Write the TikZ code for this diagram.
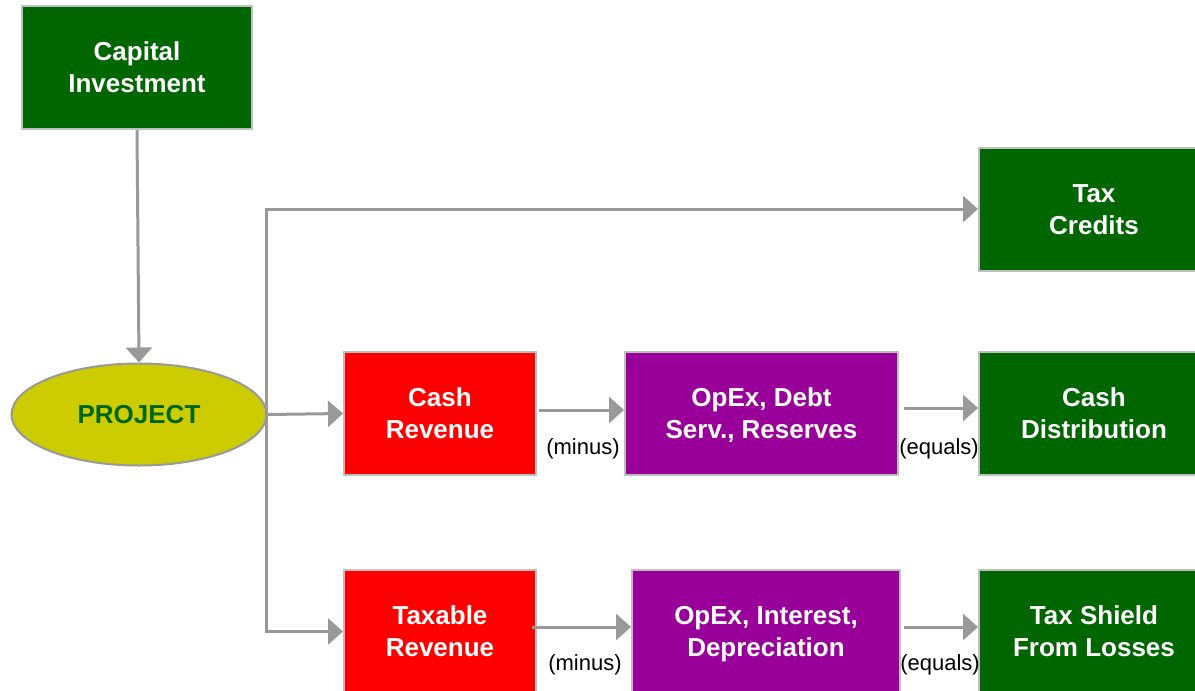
\documentclass[tikz,border=0pt]{standalone}
\usepackage{fontspec}
\setmainfont{Liberation Sans}
\usetikzlibrary{arrows.meta,shapes.geometric}
\definecolor{dgreen}{HTML}{006600}
\definecolor{bred}{HTML}{FF0000}
\definecolor{bpurple}{HTML}{990099}
\definecolor{yel}{HTML}{CCCC00}
\definecolor{lgray}{HTML}{999999}
\definecolor{bgray}{HTML}{BFBFBF}
\tikzset{
  box/.style={rectangle, draw=bgray, line width=2pt, text=white, align=center,
    font=\fontsize{26}{32}\selectfont\bfseries, inner sep=0pt,
    text height=51pt, text depth=1pt},
  gbox/.style={box, fill=dgreen, minimum width=230pt, minimum height=123pt},
  rbox/.style={box, fill=bred, minimum width=192pt, minimum height=123pt},
  pbox/.style={box, fill=bpurple, minimum height=123pt},
  conn/.style={draw=lgray, line width=3pt},
  arr/.style={conn, -{Triangle[length=15pt,width=26pt]}},
  lab/.style={font=\fontsize{22}{26}\selectfont, text=black, inner sep=0pt}
}
\begin{document}
\begin{tikzpicture}[x=1pt,y=-1pt]
\useasboundingbox (0,0) rectangle (1195,691);
\clip (0,0) rectangle (1195,691);
\fill[white] (0,0) rectangle (1195,691);

\node[gbox] (cap) at (137,67.5) {Capital\\Investment};
\node[gbox] (taxc) at (1094,209) {Tax\\Credits};
\node[gbox] (cashd) at (1094,413.5) {Cash\\Distribution};
\node[gbox] (taxs) at (1094,631.5) {Tax Shield\\From Losses};
\node[rbox] (cashr) at (440,413.5) {Cash\\Revenue};
\node[rbox] (taxr) at (440,631.5) {Taxable\\Revenue};
\node[pbox, minimum width=273pt] (opex1) at (761.5,413.5) {OpEx, Debt\\Serv., Reserves};
\node[pbox, minimum width=268pt] (opex2) at (766,631.5) {OpEx, Interest,\\Depreciation};
\node[ellipse, draw=lgray, line width=2pt, fill=yel, minimum width=255pt, minimum height=102pt,
  text=dgreen, font=\fontsize{26}{32}\selectfont\bfseries, inner sep=0pt] (proj) at (139,414.5) {PROJECT};

\coordinate (jt) at (266,209);
\coordinate (jb) at (266,631.5);

\draw[arr] (cap.south) -- (proj.north);
\draw[arr] (proj.east) -- (cashr.west);
\draw[conn] (jt) -- (jb);
\draw[arr] ([xshift=-1.5pt]jt) -- (taxc.west);
\draw[arr] ([xshift=-1.5pt]jb) -- (taxr.west);

\draw[arr] ([xshift=2pt,yshift=3.5pt]cashr.east) -- ([yshift=3.5pt]opex1.west);
\draw[arr] ([xshift=5pt,yshift=5.5pt]opex1.east) -- ([yshift=5.5pt]cashd.west);
\draw[arr] ([xshift=-5pt,yshift=4.5pt]taxr.east) -- ([yshift=4.5pt]opex2.west);
\draw[arr] ([xshift=3pt,yshift=4.5pt]opex2.east) -- ([yshift=4.5pt]taxs.west);

\node[lab] (m1) at (583,448.5) {(minus)};
\node[lab] (e1) at (939,448.5) {(equals)};
\node[lab] (m2) at (585,664.5) {(minus)};
\node[lab] (e2) at (940,664.5) {(equals)};
\end{tikzpicture}
\end{document}
